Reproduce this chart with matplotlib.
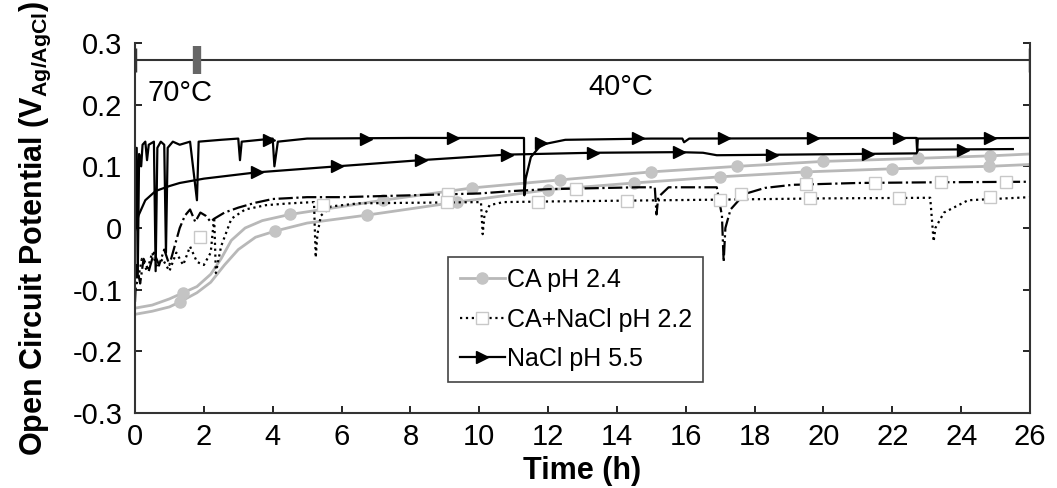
import numpy as np
import matplotlib
matplotlib.use("Agg")
import matplotlib.pyplot as plt

plt.rcParams['font.family'] = ['Liberation Sans', 'DejaVu Sans']
plt.rcParams['axes.unicode_minus'] = False

### NaCl pH 5.5 (black solid, triangles) ###
nacl_a_x = [0.0, 0.05, 0.08, 0.12, 0.18, 0.22, 0.3, 0.35, 0.4, 0.55, 0.6, 0.65, 0.75,
            0.85, 0.9, 0.95, 1.1, 1.3, 1.6, 1.8, 1.85, 2.5, 3.0, 3.05, 3.1, 4.0, 4.05,
            4.15, 5.0, 8.0, 11.3, 11.31, 11.35, 11.5, 11.8, 12.5, 15.0, 15.9, 15.95,
            16.1, 22.7, 22.72, 22.74, 26.0]
nacl_a_y = [0.0, 0.13, -0.08, 0.12, 0.10, 0.135, 0.14, 0.11, 0.135, 0.14, -0.07, 0.13, 0.14,
            0.135, -0.04, 0.13, 0.14, 0.135, 0.14, 0.045, 0.14, 0.143, 0.145, 0.11, 0.14, 0.145, 0.10,
            0.14, 0.145, 0.146, 0.146, 0.053, 0.08, 0.115, 0.135, 0.143, 0.145, 0.145, 0.139,
            0.145, 0.146, 0.124, 0.145, 0.146]
nacl_a_mx = [3.9, 6.7, 9.25, 11.8, 14.6, 17.1, 19.7, 22.2, 24.85]
nacl_a_my = [0.143, 0.145, 0.146, 0.138, 0.146, 0.146, 0.146, 0.146, 0.146]

nacl_b_x = [0.0, 0.1, 0.3, 0.6, 1.0, 1.3, 2.0, 3.5, 5.87, 8.3, 10.8, 13.3, 15.8, 16.5,
            16.9, 19.0, 22.7, 22.75, 25.5]
nacl_b_y = [-0.005, 0.02, 0.045, 0.06, 0.068, 0.073, 0.08, 0.09, 0.1, 0.11, 0.119, 0.122, 0.123, 0.122,
            0.118, 0.119, 0.121, 0.127, 0.128]
nacl_b_mx = [3.55, 5.87, 8.3, 10.8, 13.3, 15.8, 18.5, 21.3, 24.05]
nacl_b_my = [0.09, 0.1, 0.11, 0.119, 0.122, 0.123, 0.119, 0.12, 0.127]

### CA pH 2.4 (grey solid, circles) ###
ca_a_x = [0, 0.5, 1.0, 1.4, 1.8, 2.2, 2.5, 2.8, 3.2, 3.7, 4.5, 5.8, 7.2, 9.8, 12.35, 15.0,
          17.5, 20.0, 22.75, 24.85, 26]
ca_a_y = [-0.13, -0.125, -0.115, -0.105, -0.095, -0.075, -0.05, -0.02, 0.0, 0.012, 0.022, 0.033,
          0.045, 0.065, 0.078, 0.091, 0.1, 0.108, 0.113, 0.117, 0.12]
ca_a_mx = [1.4, 4.5, 7.2, 9.8, 12.35, 15.0, 17.5, 20.0, 22.75, 24.85]
ca_a_my = [-0.105, 0.022, 0.045, 0.065, 0.078, 0.091, 0.1, 0.108, 0.113, 0.117]

ca_b_x = [0, 0.5, 1.0, 1.3, 1.8, 2.2, 2.6, 3.0, 3.5, 4.07, 5.0, 6.75, 9.35, 12.0, 14.5,
          17.0, 19.5, 22.0, 24.8, 26]
ca_b_y = [-0.14, -0.135, -0.128, -0.12, -0.105, -0.088, -0.06, -0.035, -0.015, -0.005, 0.008,
          0.021, 0.042, 0.062, 0.073, 0.083, 0.091, 0.096, 0.1, 0.103]
ca_b_mx = [1.3, 4.07, 6.75, 9.35, 12.0, 14.5, 17.0, 19.5, 22.0, 24.8]
ca_b_my = [-0.12, -0.005, 0.021, 0.042, 0.062, 0.073, 0.083, 0.091, 0.096, 0.1]

### CA+NaCl pH 2.2 (black dotted / dash-dot, open squares) ###
cn_a_x = [0, 0.05, 0.15, 0.25, 0.4, 0.55, 0.7, 0.85, 1.0, 1.15, 1.3, 1.45, 1.6, 1.75, 1.9,
          2.05, 2.2, 2.3, 2.6, 3.0, 3.5, 4.0, 5.0, 6.0, 8.0, 10.0, 11.0, 12.0, 14.6, 15.1,
          15.15, 15.2, 15.5, 16.9, 17.05, 17.1, 17.15, 17.3, 17.7, 18.3, 19.1, 21.0, 23.0, 26.0]
cn_a_y = [-0.12, -0.06, -0.09, -0.05, -0.07, -0.04, -0.06, -0.035, -0.06, -0.03, 0.0, 0.02, 0.03,
          0.01, 0.025, 0.02, 0.01, 0.015, 0.025, 0.033, 0.041, 0.047, 0.05, 0.05, 0.053, 0.056,
          0.06, 0.063, 0.066, 0.066, 0.022, 0.05, 0.066, 0.066, 0.02, -0.055, 0.0, 0.03, 0.055,
          0.065, 0.07, 0.073, 0.074, 0.075]
cn_a_mx = [9.1, 12.8, 17.6, 19.5, 21.5, 23.4, 25.3]
cn_a_my = [0.055, 0.064, 0.055, 0.072, 0.073, 0.074, 0.075]

cn_b_x = [0, 0.1, 0.2, 0.35, 0.5, 0.65, 0.8, 1.0, 1.2, 1.4, 1.6, 1.8, 2.0, 2.2, 2.3, 2.35,
          2.5, 2.8, 3.2, 3.8, 4.5, 5.2, 5.25, 5.3, 5.4, 5.7, 6.5, 10.05, 10.1, 10.15, 10.3,
          10.7, 12.0, 17.0, 20.0, 23.1, 23.2, 23.25, 23.5, 24.2, 26.0]
cn_b_y = [-0.1, -0.08, -0.05, -0.07, -0.04, -0.065, -0.05, -0.07, -0.04, -0.06, -0.03, -0.055,
          -0.06, -0.04, 0.018, -0.073, -0.03, 0.015, 0.03, 0.037, 0.04, 0.042, -0.048, -0.01, 0.02,
          0.035, 0.04, 0.042, -0.01, 0.02, 0.037, 0.042, 0.043, 0.046, 0.048, 0.049, -0.022, 0.0,
          0.025, 0.045, 0.05]
cn_b_mx = [1.9, 5.45, 9.05, 11.7, 14.3, 17.0, 19.6, 22.2, 24.85]
cn_b_my = [-0.015, 0.037, 0.042, 0.042, 0.043, 0.046, 0.048, 0.049, 0.05]

x_ticks = np.arange(0, 27, 2)
y_ticks = [-0.3, -0.2, -0.1, 0, 0.1, 0.2, 0.3]
y_ticklabels = ['-0.3', '-0.2', '-0.1', '0', '0.1', '0.2', '0.3']

grey = '#b8b8b8'
mgrey = '#c4c4c4'

fig = plt.figure(figsize=(10.57, 4.88), dpi=100)
ax = fig.add_axes([0.1277, 0.1537, 0.8468, 0.7582])

# CA pH 2.4
ax.plot(ca_a_x, ca_a_y, color=grey, lw=2)
ax.plot(ca_b_x, ca_b_y, color=grey, lw=2)
ax.plot(ca_a_mx, ca_a_my, 'o', color=mgrey, ms=8)
ax.plot(ca_b_mx, ca_b_my, 'o', color=mgrey, ms=8)

# CA+NaCl pH 2.2
ax.plot(cn_a_x, cn_a_y, color='black', lw=1.6, ls='-.')
ax.plot(cn_b_x, cn_b_y, color='black', lw=1.6, ls=':')
ax.plot(cn_a_mx, cn_a_my, 's', mfc='white', mec='#c8c8c8', ms=9)
ax.plot(cn_b_mx, cn_b_my, 's', mfc='white', mec='#c8c8c8', ms=9)

# NaCl pH 5.5
ax.plot(nacl_a_x, nacl_a_y, color='black', lw=1.6)
ax.plot(nacl_b_x, nacl_b_y, color='black', lw=1.6)
ax.plot(nacl_a_mx, nacl_a_my, '>', color='black', ms=8)
ax.plot(nacl_b_mx, nacl_b_my, '>', color='black', ms=8)

# legend proxies
h1, = ax.plot([], [], color=grey, lw=2, marker='o', mfc=mgrey, mec=mgrey, ms=8)
h2, = ax.plot([], [], color='black', lw=1.6, ls=':', marker='s', mfc='white', mec='#c8c8c8', ms=9)
h3, = ax.plot([], [], color='black', lw=1.6, marker='>', ms=8)
leg = ax.legend([h1, h2, h3], ['CA pH 2.4', 'CA+NaCl pH 2.2', 'NaCl pH 5.5'],
                loc='upper left', bbox_to_anchor=(0.35, 0.422), fontsize=18,
                fancybox=False, edgecolor='#444444', framealpha=1,
                handlelength=1.8, handletextpad=0.1, borderpad=0.45, borderaxespad=0,
                labelspacing=0.62)
leg.get_frame().set_linewidth(1.2)

# temperature bar
ax.plot([0, 26], [0.272, 0.272], color='#333333', lw=1.5)
ax.plot([0, 26], [0.272, 0.272], ls='none', marker='|', ms=17, mew=2.5, color='#333333')
ax.plot([1.8], [0.272], ls='none', marker='|', ms=20, mew=6, color='#666666')
ax.text(0.35, 0.219, '70°C', fontsize=21, va='center', ha='left')
ax.text(14.1, 0.229, '40°C', fontsize=21, va='center', ha='center')

ax.set_xlim(0, 26)
ax.set_ylim(-0.3, 0.3)
ax.set_xticks(x_ticks)
ax.set_yticks(y_ticks)
ax.set_yticklabels(y_ticklabels)
ax.tick_params(direction='in', length=5, width=1.2, labelsize=21, right=True)
ax.tick_params(axis='y', pad=9)
ax.tick_params(axis='x', pad=7)
ax.spines['top'].set_visible(False)
for s in ['left', 'right', 'bottom']:
    ax.spines[s].set_linewidth(1.5)
    ax.spines[s].set_color('#333333')

ax.set_xlabel('Time (h)', fontsize=22, fontweight='bold', labelpad=4)
ax.set_ylabel(r'Open Circuit Potential (V$_\mathregular{Ag/AgCl}$)', fontsize=22,
              fontweight='bold', labelpad=14)

plt.savefig('out.png', dpi=100)
